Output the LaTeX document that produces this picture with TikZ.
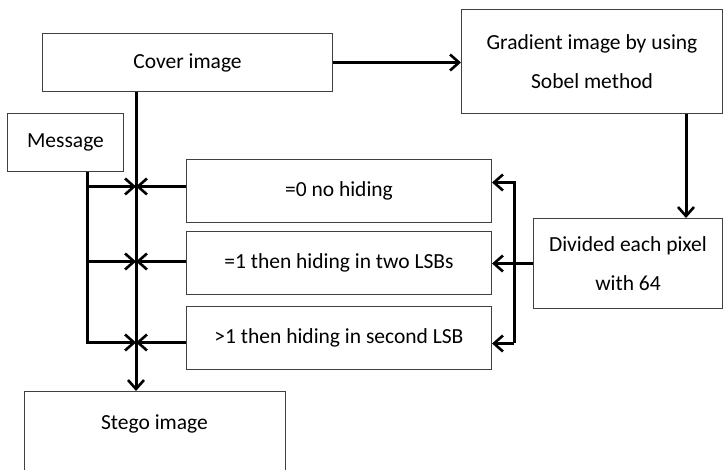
\documentclass[tikz,border=0pt]{standalone}
\usepackage{fontspec}
\setmainfont{Carlito}
\usetikzlibrary{arrows.meta}
\begin{document}
\begin{tikzpicture}[x=1pt,y=-1pt,
  box/.style={draw=black!75, line width=1pt, rectangle, anchor=north west, inner sep=0pt,
    align=center, font=\fontsize{21.5}{39}\selectfont},
  ln/.style={line width=3pt, line join=miter},
  arr/.style={line width=3pt, line join=miter, -{Straight Barb[length=9pt,width=16pt,line width=2.6pt]}}]
\useasboundingbox[fill=white] (0,0) rectangle (723,470);
\node[box, minimum width=290pt, minimum height=58pt] (cover) at (42,33) {Cover image};
\node[box, minimum width=261pt, minimum height=104pt] (grad) at (461,9) {Gradient image by using\\Sobel method};
\node[box, minimum width=116pt, minimum height=58pt] (msg) at (7,113) {Message};
\node[box, minimum width=305pt, minimum height=63pt] (b0) at (186,159) {=0 no hiding};
\node[box, minimum width=305pt, minimum height=63pt] (b1) at (186,231) {=1 then hiding in two LSBs};
\node[box, minimum width=305pt, minimum height=63pt] (b2) at (186,306) {>1 then hiding in second LSB};
\node[box, minimum width=189pt, minimum height=90pt] (div) at (533,218) {Divided each pixel\\with 64};
\node[box, draw=none, minimum width=260pt, minimum height=64pt] (stego) at (24,391) {Stego image};
\draw[draw=black!75, line width=1pt] ([yshift=-90pt]stego.north west) -- (stego.north west) -- (stego.north east) -- ([yshift=-90pt]stego.north east);
\coordinate (cx) at (136,0);
\coordinate (mx) at (87,0);
\coordinate (rx) at (514,0);
\coordinate (gx) at (686,0);
\coordinate (a0) at ([yshift=4.5pt]b0.west);
\coordinate (a1) at ([yshift=1.5pt]b1.west);
\coordinate (a2) at ([yshift=-4.5pt]b2.west);
\coordinate (t0) at ([yshift=8.5pt]b0.east);
\coordinate (t2) at ([yshift=-5.5pt]b2.east);
% connectors
\draw[arr] (cover.east) -- (cover.east -| grad.west);
\draw[arr] (grad.south -| gx) -- (div.north -| gx);
\draw[arr] (cover.south -| cx) -- (stego.north -| cx);
\draw[arr] (msg.south -| mx) |- (cx |- a2);
\draw[arr] (mx |- a0) -- (cx |- a0);
\draw[arr] (mx |- a1) -- (cx |- a1);
\draw[arr] (a0) -- (cx |- a0);
\draw[arr] (a1) -- (cx |- a1);
\draw[arr] (a2) -- (cx |- a2);
\draw[arr] (t2 -| rx) |- (t0);
\draw[arr] (t2 -| rx) -- (t2);
\draw[arr] (div.west) -- (div.west -| b1.east);
\end{tikzpicture}
\end{document}
